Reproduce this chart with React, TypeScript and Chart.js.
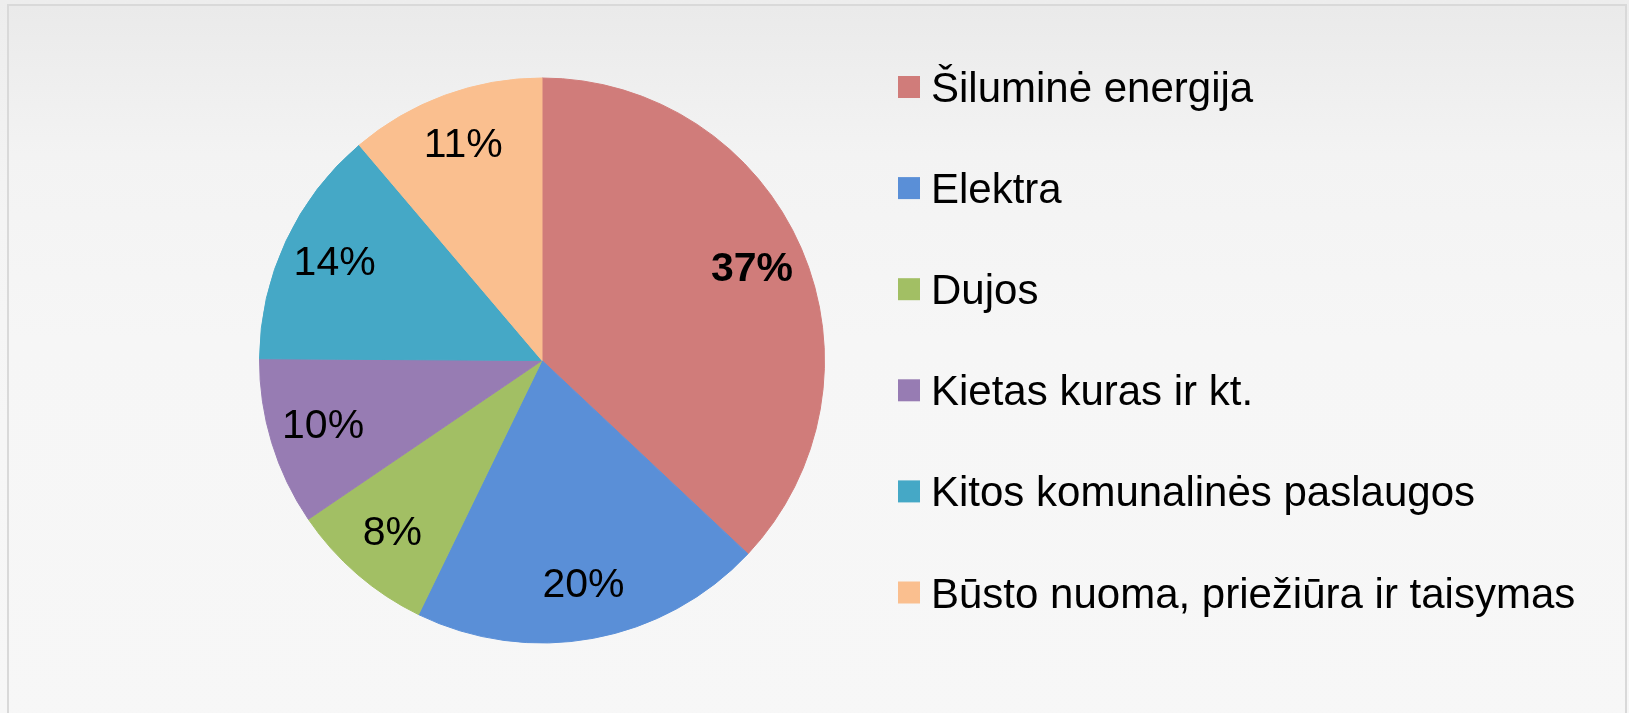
import React, { useEffect, useRef } from "react";
import { Chart, registerables } from "chart.js";

Chart.register(...registerables);

const categories: string[] = [
  "Šiluminė energija",
  "Elektra",
  "Dujos",
  "Kietas kuras ir kt.",
  "Kitos komunalinės paslaugos",
  "Būsto nuoma, priežiūra ir taisymas",
];
const shares: number[] = [37.0, 20.2, 8.3, 9.6, 13.7, 11.2];
const sliceColors: string[] = ["#d07c7a", "#5a8fd7", "#a2bf64", "#977cb3", "#45a8c6", "#fabf8f"];
const boldLabel: boolean[] = [true, false, false, false, false, false];

const FONT = "'Liberation Sans', Arial, sans-serif";

const sliceLabels = {
  id: "sliceLabels",
  afterDatasetsDraw(chart: any) {
    const ctx = chart.ctx;
    const meta = chart.getDatasetMeta(0);
    const data = chart.data.datasets[0].data as number[];
    ctx.save();
    ctx.fillStyle = "#000";
    ctx.textAlign = "center";
    ctx.textBaseline = "middle";
    meta.data.forEach((arc: any, i: number) => {
      const p = arc.getProps(["x", "y", "startAngle", "endAngle", "outerRadius"], true);
      const mid = (p.startAngle + p.endAngle) / 2;
      const r = p.outerRadius * 0.81;
      ctx.font = `${boldLabel[i] ? "bold " : ""}41px ${FONT}`;
      ctx.fillText(`${Math.round(data[i])}%`, p.x + Math.cos(mid) * r, p.y + Math.sin(mid) * r);
    });
    ctx.restore();
  },
};

const sideLegend = {
  id: "sideLegend",
  afterDraw(chart: any) {
    const ctx = chart.ctx;
    const labels = chart.data.labels as string[];
    const colors = chart.data.datasets[0].backgroundColor as string[];
    const x0 = 898;
    const y0 = 87;
    const step = 101.1;
    const box = 22;
    ctx.save();
    ctx.font = `42px ${FONT}`;
    ctx.textAlign = "left";
    ctx.textBaseline = "alphabetic";
    labels.forEach((t, i) => {
      const cy = y0 + i * step;
      ctx.fillStyle = colors[i];
      ctx.fillRect(x0, cy - box / 2, box, box);
      ctx.fillStyle = "#000";
      ctx.fillText(t, x0 + 33, cy + 15);
    });
    ctx.restore();
  },
};

export default function App() {
  const ref = useRef<HTMLCanvasElement | null>(null);
  useEffect(() => {
    if (!ref.current) return;
    const chart = new Chart(ref.current, {
      type: "pie",
      data: {
        labels: categories,
        datasets: [
          {
            data: shares,
            backgroundColor: sliceColors,
            borderColor: sliceColors,
            borderWidth: 1,
          },
        ],
      },
      options: {
        animation: false,
        responsive: false,
        maintainAspectRatio: false,
        devicePixelRatio: 1,
        layout: { padding: { left: 259, right: 804, top: 77.5, bottom: 69.5 } },
        plugins: {
          legend: { display: false },
          tooltip: { enabled: false },
        },
      },
      plugins: [sliceLabels, sideLegend],
    });
    return () => chart.destroy();
  }, []);

  return (
    <div
      style={{
        position: "fixed",
        left: 0,
        top: 0,
        width: 1629,
        height: 713,
        background: "linear-gradient(#ededed 0%, #f4f4f4 30%, #f6f6f6 60%, #f7f7f7 100%)",
        overflow: "hidden",
      }}
    >
      <div
        style={{
          position: "absolute",
          left: 7,
          top: 4,
          width: 1616,
          height: 740,
          border: "2px solid #d9d9d9",
          background: "linear-gradient(#eaeaea 0%, #f3f3f3 20%, #f6f6f6 45%, #f7f7f7 100%)",
        }}
      />
      <canvas
        ref={ref}
        width={1629}
        height={713}
        style={{ position: "absolute", left: 0, top: 0, width: 1629, height: 713 }}
      />
    </div>
  );
}
